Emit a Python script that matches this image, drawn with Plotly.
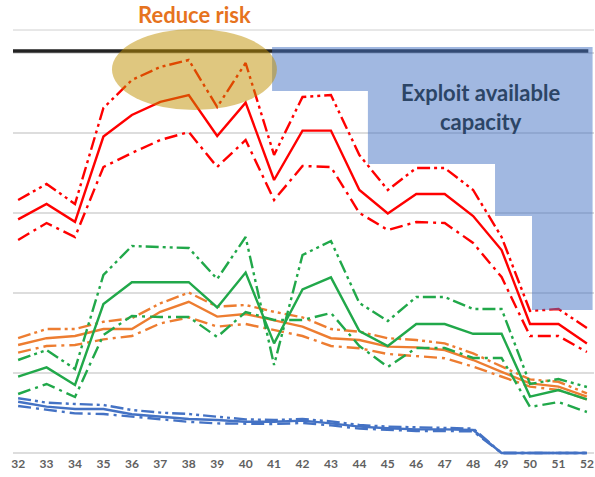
import plotly.graph_objects as go

weeks = list(range(32, 53))

red_mid = [58.4, 62.25, 57.8, 79.1, 84.5, 87.8, 89.5, 79.25, 87.6, 68.25, 80.6, 80.6, 65.75, 59.9, 64.75, 64.75, 59.25, 50.75, 32.25, 32.25, 27.4]
red_hi = [63.25, 67.25, 62.25, 86.25, 93.25, 96.5, 98.25, 86.5, 97.5, 74.5, 89, 89.5, 74.5, 65.75, 71.25, 71.25, 65.75, 54, 35.5, 36, 31.25]
red_lo = [53.25, 57.5, 54, 71.5, 75, 78.25, 80.25, 71.5, 78.25, 63.25, 71.75, 71.5, 60, 55.75, 57.75, 57.5, 52.5, 44, 29.25, 29.25, 25.25]

green_mid = [19.1, 21.4, 17, 37.25, 42.7, 42.7, 42.7, 36.4, 45.1, 27.4, 40.9, 43.9, 30.5, 26.75, 32.25, 32.25, 29.8, 29.8, 14.1, 15.75, 13.4]
green_hi = [23.25, 25.75, 21, 44.5, 51.75, 51.5, 51.25, 43.5, 54, 22, 49.5, 53, 37.5, 33, 39, 39, 36, 36, 17.25, 18.5, 16.5]
green_lo = [14.75, 17.25, 14, 29.5, 34.25, 34, 34, 29, 35.25, 33.25, 33.25, 35, 26.75, 21.5, 26.25, 26.25, 23.75, 23.75, 11.5, 12.75, 10.25]

orange_mid = [27, 28.7, 29.25, 31, 31, 35.3, 37.8, 34.1, 34.75, 33.1, 31.6, 28.7, 28.25, 26.6, 26.4, 25.75, 23.25, 20.3, 17.4, 16.6, 14.1]
orange_hi = [28.7, 31, 31, 32.8, 33.7, 37.4, 40.1, 36.6, 37, 35.3, 33.9, 31, 30.3, 28.7, 28.25, 27.4, 24.9, 21.6, 18.4, 17.8, 14.9]
orange_lo = [25.1, 26.75, 27, 28.4, 29.25, 32.4, 33.9, 31.6, 32.25, 30.75, 29.25, 26.75, 26.2, 24.75, 24.25, 23.7, 21.6, 19.1, 16.6, 15.75, 13.4]

blue_mid = [12.8, 11.6, 11, 11, 9.7, 9.1, 8.5, 8.25, 7.8, 7.8, 8.1, 7.4, 6.6, 6.2, 5.9, 5.9, 5.75, 0, 0, 0, 0]
blue_hi = [13.7, 12.6, 12.25, 12, 10.75, 10.1, 9.75, 9.1, 8.4, 8.25, 8.5, 7.9, 7, 6.6, 6.4, 6.25, 6.1, 0, 0, 0, 0]
blue_lo = [11.75, 10.75, 9.9, 9.75, 9.1, 8.4, 7.8, 7.4, 7.25, 7.25, 7.5, 6.9, 6.1, 5.75, 5.5, 5.5, 5.4, 0, 0, 0, 0]

# available capacity (step region)
cap_edges = [40.93, 44.3, 48.77, 50.07, 52.2]
cap_floor = [90.5, 72.25, 59.25, 35.75]
cap_top = 101.5
limit_level = 100.5

tick_labels = [str(w) for w in weeks]

RED = "#FF0000"
GREEN = "#21A84A"
ORANGE = "#ED7D31"
BLUE = "#4472C4"
DASH_HI = "13px,4px,3px,4px,3px,4px"
DASH_LO = "13px,5px,3px,5px"

fig = go.Figure()


def add(y, color, dash, width=2.4):
    fig.add_trace(go.Scatter(x=weeks, y=y, mode="lines",
                             line=dict(color=color, width=width, dash=dash),
                             showlegend=False, hoverinfo="skip"))


for mid, hi, lo, col in [(blue_mid, blue_hi, blue_lo, BLUE),
                         (orange_mid, orange_hi, orange_lo, ORANGE),
                         (green_mid, green_hi, green_lo, GREEN),
                         (red_mid, red_hi, red_lo, RED)]:
    add(hi, col, DASH_HI)
    add(lo, col, DASH_LO)
    add(mid, col, "solid")

# capacity path
path = f"M {cap_edges[0]} {cap_top}"
for i, fl in enumerate(cap_floor):
    path += f" L {cap_edges[i]} {fl} L {cap_edges[i+1]} {fl}"
path += f" L {cap_edges[-1]} {cap_top} Z"

shapes = [
    dict(type="line", xref="paper", x0=0, x1=1, yref="y", y0=105.75, y1=105.75,
         line=dict(color="#d0d0d0", width=1), layer="below"),
    dict(type="line", xref="x", x0=31.82, x1=52.05, yref="y", y0=limit_level, y1=limit_level,
         line=dict(color="#222222", width=3.5), layer="above"),
    dict(type="path", path=path, xref="x", yref="y", fillcolor=BLUE, opacity=0.5,
         line=dict(width=0), layer="above"),
    dict(type="circle", xref="x", yref="y", x0=35.3, x1=41.1, y0=85.75, y1=106,
         fillcolor="#BF9000", opacity=0.5, line=dict(width=0), layer="above"),
]

annotations = [
    dict(x=38.19, y=1.014, xref="x", yref="paper", text="<b>Reduce risk</b>", showarrow=False,
         yanchor="middle", font=dict(family="Lato", size=22, color="#E6731E")),
    dict(x=48.26, y=86.5, xref="x", yref="y", text="<b>Exploit available<br>capacity</b>",
         showarrow=False, font=dict(family="Lato", size=22, color="#2C4566")),
]

fig.update_layout(
    width=595, height=477,
    margin=dict(l=13, r=1, t=21, b=22, autoexpand=False),
    paper_bgcolor="white", plot_bgcolor="white",
    shapes=shapes, annotations=annotations,
    xaxis=dict(range=[31.82, 52.25], tickmode="array", tickvals=weeks, ticktext=tick_labels,
               showgrid=False, zeroline=False, showline=False, ticks="", automargin=False,
               tickfont=dict(family="Lato", size=12, color="#606060", weight="bold")),
    yaxis=dict(range=[-0.5, 108], tickvals=[0, 20, 40, 60, 80, 100], showticklabels=False,
               automargin=False,
               showgrid=True, gridcolor="#dddddd", gridwidth=1.5, zeroline=False, showline=False),
)

fig.write_html("out.html", config={"displayModeBar": False},
               post_script="document.body.style.margin='0';document.body.style.padding='0';document.body.style.overflow='hidden';")
